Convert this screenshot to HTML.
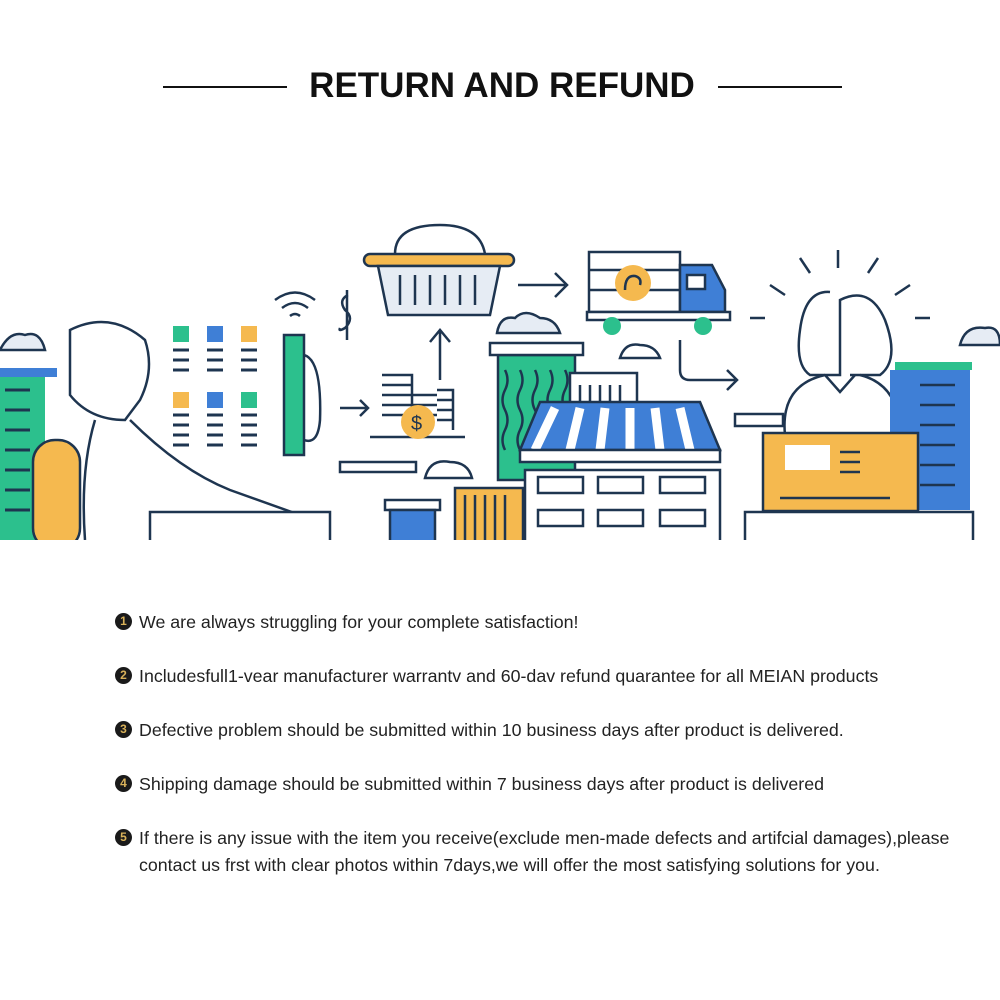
<!DOCTYPE html>
<html><head><meta charset="utf-8"><style>
body{margin:0;width:1000px;height:1000px;background:#fff;position:relative;overflow:hidden;font-family:"Liberation Sans",sans-serif;}
.t{position:absolute;left:139px;font-size:17.8px;color:#222;line-height:27px;white-space:nowrap;}
.b{position:absolute;left:115px;width:17px;height:17px;border-radius:50%;background:#1a1a1a;color:#d9b25a;font-size:12px;font-weight:bold;text-align:center;line-height:17px;}
</style></head><body>
<div style="position:absolute;left:163px;top:86px;width:124px;height:2px;background:#111"></div>
<div style="position:absolute;left:718px;top:86px;width:124px;height:2px;background:#111"></div>
<div style="position:absolute;left:290px;width:424px;top:66px;text-align:center;font-size:35px;font-weight:bold;color:#111;">RETURN AND REFUND</div>
<svg style="position:absolute;left:0;top:0" width="1000" height="540" fill="none" stroke="#1e3550" stroke-width="2.5">
<rect x="0" y="375" width="45" height="165" fill="#2cc08d" stroke="none"/>
<rect x="0" y="368" width="57" height="9" fill="#3f7fd6" stroke="none"/>
<g stroke="#1e3550" stroke-width="3"><line x1="5" y1="390" x2="30" y2="390"/><line x1="5" y1="410" x2="30" y2="410"/><line x1="5" y1="430" x2="30" y2="430"/><line x1="5" y1="450" x2="30" y2="450"/><line x1="5" y1="470" x2="30" y2="470"/><line x1="5" y1="490" x2="30" y2="490"/><line x1="5" y1="510" x2="30" y2="510"/></g>
<path d="M0 350 Q10 330 25 335 Q40 330 45 350 Z" fill="#e6ecf4"/>
<rect x="33" y="440" width="47" height="110" rx="22" fill="#f5b94f"/>
<path d="M70 330 Q110 310 145 340 Q155 370 140 400 L125 420 Q90 420 70 395 Z" />
<path d="M95 420 Q80 470 85 540 M130 420 Q180 470 230 490 L300 515"/>
<rect x="173" y="326" width="16" height="16" fill="#2cc08d" stroke="none"/><rect x="207" y="326" width="16" height="16" fill="#3f7fd6" stroke="none"/><rect x="241" y="326" width="16" height="16" fill="#f5b94f" stroke="none"/>
<rect x="173" y="392" width="16" height="16" fill="#f5b94f" stroke="none"/><rect x="207" y="392" width="16" height="16" fill="#3f7fd6" stroke="none"/><rect x="241" y="392" width="16" height="16" fill="#2cc08d" stroke="none"/>
<g stroke-width="3"><path d="M173 350h16M207 350h16M241 350h16M173 360h16M207 360h16M241 360h16M173 370h16M207 370h16M241 370h16M173 415h16M207 415h16M241 415h16M173 425h16M207 425h16M241 425h16M173 435h16M207 435h16M241 435h16M173 445h16M207 445h16M241 445h16"/></g>
<rect x="284" y="335" width="20" height="120" fill="#2cc08d"/>
<path d="M304 355 Q322 360 320 420 Q318 445 304 440"/>
<path d="M275 300 Q295 285 315 300 M282 308 Q295 298 308 308 M290 316 Q295 312 300 316"/>
<path d="M348 295 Q338 300 345 310 Q355 318 345 328 Q338 332 340 328 M347 290 v50"/>
<path d="M395 254 Q395 225 440 225 Q480 225 485 254"/>
<rect x="364" y="254" width="150" height="12" rx="6" fill="#f5b94f"/>
<path d="M378 266 L388 315 L490 315 L500 266 Z" fill="#e6ecf4"/>
<path d="M400 275v30M415 275v30M430 275v30M445 275v30M460 275v30M475 275v30"/>
<path d="M440 380 V330 M430 342 L440 330 L450 342"/>
<path d="M518 285 H565 M555 273 L567 285 L555 297"/>
<rect x="589" y="252" width="91" height="60" fill="#fff"/>
<path d="M589 270h91M589 290h91"/>
<path d="M680 265 H712 L725 290 V312 H680 Z" fill="#3f7fd6"/>
<rect x="687" y="275" width="18" height="14" fill="#fff"/>
<circle cx="633" cy="283" r="18" fill="#f5b94f" stroke="none"/>
<path d="M625 290 Q625 275 635 276 Q642 278 640 285"/>
<rect x="587" y="312" width="143" height="8" fill="#fff"/>
<circle cx="612" cy="326" r="9" fill="#2cc08d" stroke="none"/><circle cx="703" cy="326" r="9" fill="#2cc08d" stroke="none"/>
<path d="M680 340 V370 Q680 380 690 380 H735 M727 370 L737 380 L727 390"/>
<path d="M382 375h30v60M382 385h30M382 395h30M382 405h30M382 415h30M412 395h25M412 405h25M412 415h25M437 390h16v40M437 400h16M437 410h16M437 420h16"/>
<path d="M370 437h95"/>
<circle cx="418" cy="422" r="17" fill="#f5b94f" stroke="none"/>
<text x="411" y="430" font-size="20" fill="#1e3550" stroke="none" font-family="Liberation Sans">$</text>
<path d="M340 408h28M360 400l8 8l-8 8"/>
<path d="M497 333 Q500 315 515 318 Q525 308 540 318 Q555 318 560 333 Z" fill="#e6ecf4"/>
<path d="M620 358 Q625 342 640 345 Q655 345 660 358 Z"/>
<path d="M425 478 Q430 458 450 462 Q468 462 472 478 Z"/>
<path d="M960 345 Q965 325 985 328 Q1000 325 1000 345 Z" fill="#e6ecf4"/>
<rect x="498" y="355" width="77" height="125" fill="#2cc08d"/>
<rect x="490" y="343" width="93" height="12" fill="#fff"/>
<path d="M505 370 q5 10 0 20 q-5 10 0 20 q5 10 0 20 q-5 10 0 20 M520 370 q5 10 0 20 q-5 10 0 20 q5 10 0 20 q-5 10 0 20 M535 370 q5 10 0 20 q-5 10 0 20 q5 10 0 20 q-5 10 0 20 M550 370 q5 10 0 20 q-5 10 0 20 q5 10 0 20 M565 370 q5 10 0 20 q-5 10 0 20"/>
<rect x="570" y="373" width="67" height="35" fill="#fff"/>
<path d="M580 385v20M590 385v20M600 385v20M610 385v20M620 385v20"/>
<rect x="525" y="470" width="195" height="75" fill="#fff"/>
<path d="M540 402 H700 L720 450 H520 Z" fill="#3f7fd6"/>
<path d="M555 408 L535 450 M580 408 L570 450 M605 408 L600 450 M630 408 L630 450 M655 408 L660 450 M680 408 L690 450" stroke="#fff" stroke-width="9"/>
<path d="M520 450 H720 V462 H520 Z" fill="#fff"/>
<g fill="#fff"><rect x="538" y="477" width="45" height="16"/><rect x="598" y="477" width="45" height="16"/><rect x="660" y="477" width="45" height="16"/><rect x="538" y="510" width="45" height="16"/><rect x="598" y="510" width="45" height="16"/><rect x="660" y="510" width="45" height="16"/></g>
<rect x="340" y="462" width="76" height="10" fill="#fff"/>
<rect x="385" y="500" width="55" height="10" fill="#fff"/>
<rect x="390" y="510" width="45" height="35" fill="#3f7fd6"/>
<rect x="455" y="488" width="68" height="60" fill="#f5b94f"/>
<path d="M465 495v45M475 495v45M485 495v45M495 495v45M505 495v45"/>
<rect x="150" y="512" width="180" height="40" fill="#fff"/>
<path d="M838 250v18M800 258l10 15M878 258l-10 15M770 285l15 10M910 285l-15 10M750 318h15M915 318h15"/>
<path d="M830 292 Q805 290 800 330 Q795 365 810 375 L840 375 L840 300 Q870 285 885 320 Q900 360 880 375 L850 375"/>
<path d="M825 375 Q780 385 785 435 M860 375 Q900 385 900 435 M825 375 L840 392 L855 375"/>
<rect x="890" y="370" width="80" height="140" fill="#3f7fd6" stroke="none"/>
<rect x="895" y="362" width="77" height="8" fill="#2cc08d" stroke="none"/>
<path d="M920 385h35M920 405h35M920 425h35M920 445h35M920 465h35M920 485h35"/>
<rect x="735" y="414" width="48" height="12" fill="#fff"/>
<rect x="763" y="433" width="155" height="78" fill="#f5b94f"/>
<rect x="785" y="445" width="45" height="25" fill="#fff" stroke="none"/>
<path d="M840 452h20M840 462h20M840 472h20M780 498h110"/>
<rect x="745" y="512" width="228" height="30" fill="#fff"/>
</svg>
<div class="b" style="top:613px">1</div><div class="t" style="top:609px">We are always struggling for your complete satisfaction!</div>
<div class="b" style="top:667px">2</div><div class="t" style="top:663px">Includesfull1-vear manufacturer warrantv and 60-dav refund quarantee for all MEIAN products</div>
<div class="b" style="top:721px">3</div><div class="t" style="top:717px">Defective problem should be submitted within 10 business days after product is delivered.</div>
<div class="b" style="top:775px">4</div><div class="t" style="top:771px">Shipping damage should be submitted within 7 business days after product is delivered</div>
<div class="b" style="top:829px">5</div><div class="t" style="top:825px">If there is any issue with the item you receive(exclude men-made defects and artifcial damages),please<br>contact us frst with clear photos within 7days,we will offer the most satisfying solutions for you.</div>
</body></html>
